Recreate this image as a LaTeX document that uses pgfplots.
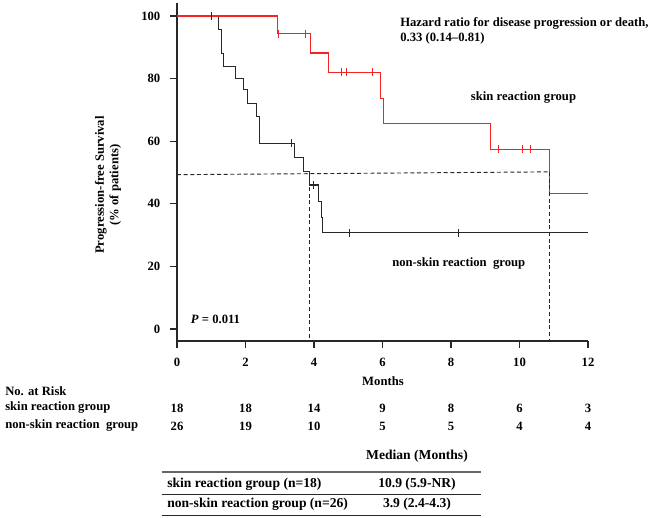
\documentclass[border=0pt]{standalone}
\usepackage{fontspec}
\setmainfont{Liberation Serif}
\usepackage{pgfplots}
\pgfplotsset{compat=1.18}
\definecolor{kmred}{RGB}{245,35,35}
\definecolor{kmblack}{RGB}{40,40,40}
\newcommand\fs{\fontsize{9.5}{11}\selectfont\bfseries}
\newcommand\fst{\fontsize{10.2}{12}\selectfont\bfseries}
\begin{document}
\begin{tikzpicture}
\path[use as bounding box] (0,0) rectangle (495.75pt,388.5pt);
\begin{axis}[
  at={(132.75pt,132.75pt)}, anchor=south west,
  scale only axis, width=308.25pt, height=253.5pt,
  xmin=0, xmax=12, ymin=-3.83, ymax=104.15,
  axis x line*=bottom, axis y line*=left,
  axis line style={line width=0.8pt, color=kmblack},
  xtick={0,2,...,12}, ytick={0,20,...,100},
  tick align=outside, major tick length=5pt,
  tick style={line width=0.8pt, color=kmblack},
  /pgf/number format/assume math mode=true,
  ticklabel style={font=\fs},
  xticklabel style={yshift=-4.5pt},
  yticklabel style={xshift=-4pt},
]
% non-skin reaction group
\addplot[kmblack, line width=0.9pt, const plot] coordinates {
(0,100)(1.21,95.8)(1.30,88.1)(1.35,83.8)(1.71,80.1)(1.94,76.4)(2.05,72.1)(2.33,67.8)(2.40,59.3)(3.42,54.8)(3.69,50.3)(3.88,46.0)(4.12,40.7)(4.22,35.5)(4.25,30.8)(12,30.8)};
\addplot[kmblack, only marks, mark=|, mark size=3pt, mark options={line width=0.8pt}] coordinates {
(1.01,100)(3.35,59.3)(3.98,46.0)(5.05,30.8)(8.23,30.8)};
% skin reaction group
\addplot[kmred, line width=0.9pt, const plot] coordinates {
(0,100)(2.93,94.4)(3.90,88.2)(4.42,82.0)(5.93,73.7)(6.03,65.6)(9.16,57.4)(10.87,43.3)(12,43.3)};
\addplot[kmred, only marks, mark=|, mark size=3pt, mark options={line width=0.8pt}] coordinates {
(2.95,94.4)(3.76,94.4)(4.81,82.0)(4.95,82.0)(5.70,82.0)(9.40,57.4)(10.08,57.4)(10.33,57.4)};
% medians
\addplot[kmblack, line width=0.7pt, dash pattern=on 3pt off 2pt] coordinates {(0,49.3)(10.87,50.2)};
\addplot[kmblack, line width=0.7pt, dash pattern=on 3pt off 2pt] coordinates {(3.88,49.6)(3.88,-3.83)};
\addplot[kmblack, line width=0.7pt, dash pattern=on 3pt off 2pt] coordinates {(10.87,50.2)(10.87,-3.83)};
\end{axis}
\begin{scope}[x=0.75pt,y=-0.75pt,yshift=388.5pt]
\tikzset{every node/.style={font=\fs, inner sep=0pt}}
\node[anchor=west] at (400,23) {Hazard ratio for disease progression or death,};
\node[anchor=west] at (400,38) {0.33 (0.14--0.81)};
\node[anchor=west] at (470.7,98) {skin reaction group};
\node[anchor=west] at (392,264) {non-skin reaction\ \ group};
\node[anchor=west] at (190.7,319) {\itshape P\upshape\ = 0.011};
\node[rotate=90, align=center] at (108,185) {Progression-free Survival\\(\% of patients)};
\node at (383,381) {Months};
\node[anchor=west] at (5,391) {No. at Risk};
\node[anchor=west] at (5,408) {skin reaction group};
\node[anchor=west] at (5,426) {non-skin reaction\ \ group};
\foreach \v [count=\i from 0] in {18,18,14,9,8,6,3} {\node at ({177+68.5*\i},408) {\v};}
\foreach \v [count=\i from 0] in {26,19,10,5,5,4,4} {\node at ({177+68.5*\i},426) {\v};}
\tikzset{every node/.style={font=\fst, inner sep=0pt}}
\node at (417,456) {Median (Months)};
\draw[line width=1.6pt, black!60] (161.7,472) -- (481,472);
\node[anchor=west] at (167,484) {skin reaction group (n=18)};
\node at (417,484) {10.9 (5.9-NR)};
\draw[line width=0.7pt, kmblack] (161.7,494) -- (481,494);
\node[anchor=west] at (167,504) {non-skin reaction group (n=26)};
\node at (417,504) {3.9 (2.4-4.3)};
\draw[line width=0.7pt, kmblack] (161.7,515) -- (481,515);
\end{scope}
\end{tikzpicture}
\end{document}
